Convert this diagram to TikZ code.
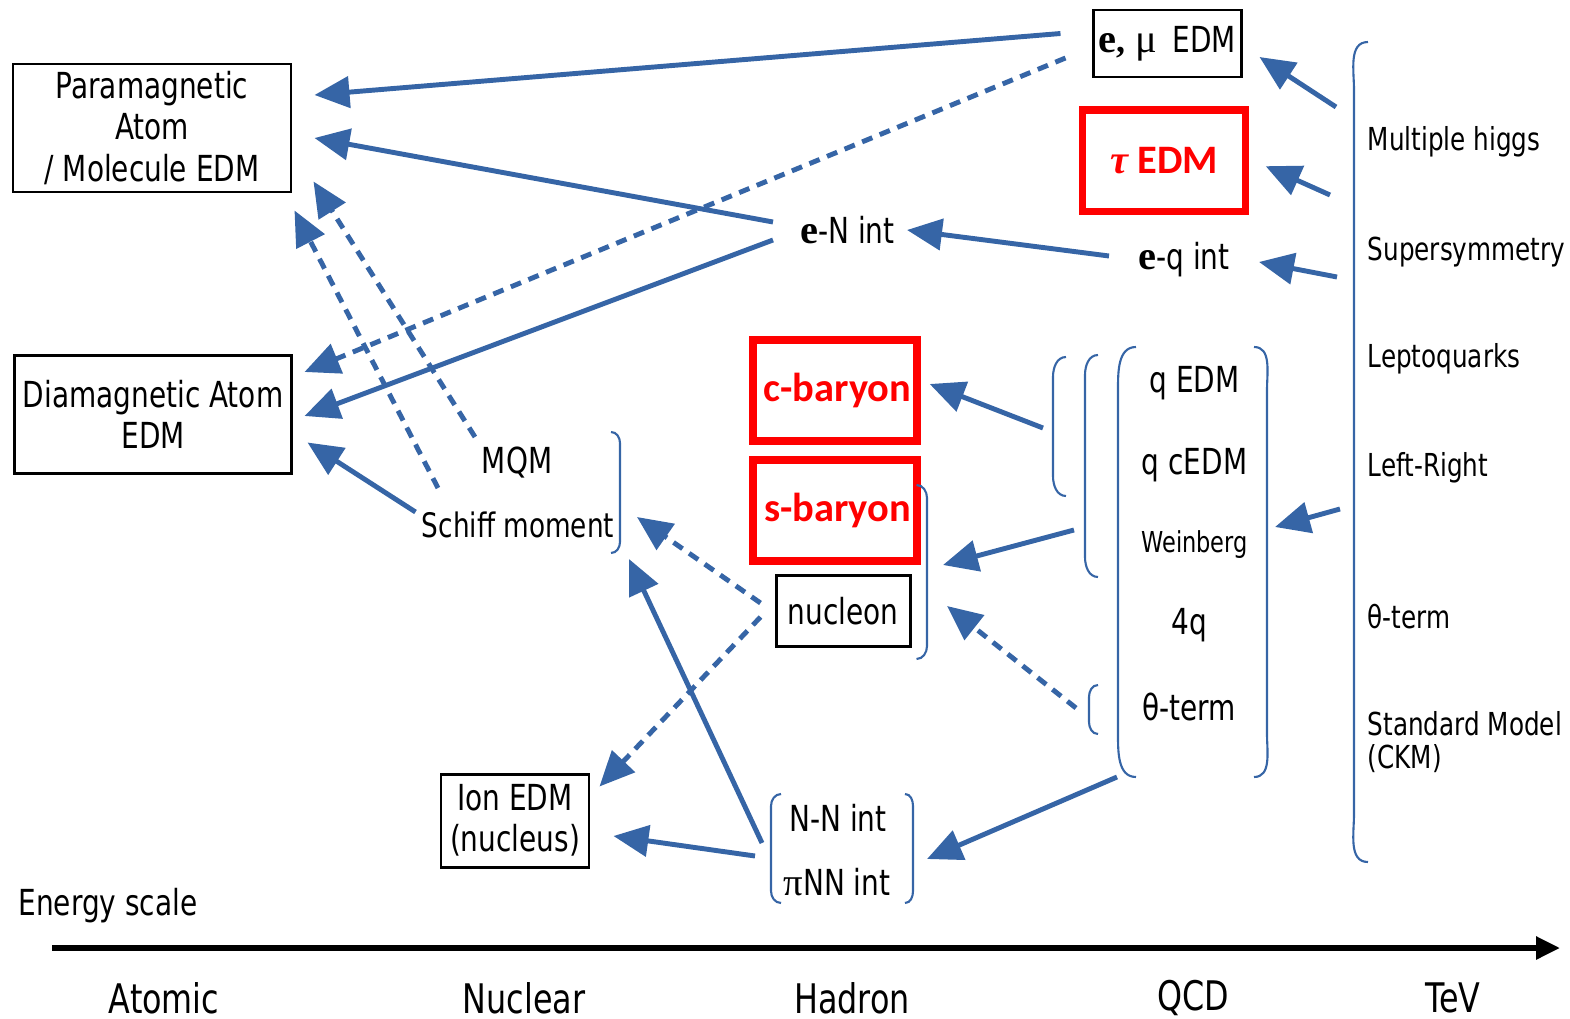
\documentclass[tikz,border=0pt]{standalone}
\usepackage{fontspec}
\setmainfont{DejaVu Sans}[FakeStretch=0.78]
\newfontfamily\redfont{Carlito}
\newfontfamily\tms{Liberation Serif}
\usetikzlibrary{arrows.meta}
\definecolor{edmblue}{RGB}{54,101,166}
\newcommand{\bfe}{{\tms\bfseries\fontsize{11.5}{12}\selectfont e}}

\tikzset{
  box/.style={draw, line width=0.85pt, inner sep=0pt, align=center,
    font=\fontsize{10.2}{11.7}\selectfont},
  redbox/.style={draw=red, line width=2.1pt, inner sep=0pt, text=red,
    minimum width=1.64cm, minimum height=1.01cm,
    font=\redfont\bfseries\fontsize{11.5}{13}\selectfont},
  lbl/.style={inner sep=1pt, font=\fontsize{10.2}{11.7}\selectfont},
  bsm/.style={anchor=west, inner sep=0pt, align=left,
    font=\fontsize{9}{9.6}\selectfont},
  axlbl/.style={inner sep=0pt, font=\fontsize{11.6}{13}\selectfont},
  link/.style={draw=edmblue, line width=1.4pt,
    -{Triangle[length=3.5mm,width=3.1mm]}},
  dlink/.style={link, dash pattern=on 1.1mm off 0.8mm},
  brk/.style={draw=edmblue, line width=0.6pt}
}

\begin{document}
\begin{tikzpicture}
\useasboundingbox (0,0) rectangle (15.70,10.18);

\node[box, minimum width=2.78cm, minimum height=1.28cm] (para) at (1.52,8.90) {Paramagnetic\\Atom\\/ Molecule EDM};
\node[box, minimum width=2.77cm, minimum height=1.18cm] (dia) at (1.53,6.035) {Diamagnetic Atom\\EDM};
\node[box, minimum width=1.48cm, minimum height=0.67cm] (emu) at (11.67,9.745) {\raisebox{-0.3mm}{\bfe{\tms\bfseries,}\hspace{1.1mm}{\tms\fontsize{11.5}{12}\selectfont μ}\hspace{1.5mm}EDM}};
\node[redbox, minimum width=1.63cm, minimum height=1.015cm] (tau) at (11.64,8.573) {{\tms\itshape τ} EDM};
\node[lbl] (eN) at (8.475,7.88) {\bfe-N int};
\node[lbl] (eq) at (11.84,7.58) {\bfe-q int};
\node[redbox] (cbar) at (8.35,6.275) {\hspace{0.5mm}c-baryon};
\node[redbox] (sbar) at (8.35,5.075) {\hspace{0.5mm}s-baryon};
\node[box, minimum width=1.34cm, minimum height=0.71cm] (nucl) at (8.43,4.07) {nucleon};
\node[lbl] (mqm) at (5.17,5.55) {MQM};
\node[lbl, font=\fontsize{9.6}{11}\selectfont] (schiff) at (5.18,4.93) {Schiff moment};
\node[box, minimum width=1.48cm, minimum height=0.93cm] (ion) at (5.15,1.975) {Ion EDM\\(nucleus)};
\node[lbl] (nn) at (8.38,2.00) {N-N int};
\node[lbl] (pinn) at (8.37,1.36) {{\tms\fontsize{11}{12}\selectfont π}NN int};

\node[lbl] (qedm) at (11.945,6.35) {q EDM};
\node[lbl] (qcedm) at (11.945,5.53) {q cEDM};
\node[lbl, font=\fontsize{8.2}{9}\selectfont] (weinb) at (11.945,4.73) {Weinberg};
\node[lbl] (fourq) at (11.89,3.93) {4q};
\node[lbl] (theta) at (11.89,3.11) {θ-term};

\node[bsm] (higgs) at (13.67,8.76) {Multiple higgs};
\node[bsm] (susy) at (13.67,7.66) {Supersymmetry};
\node[bsm] (lepto) at (13.67,6.59) {Leptoquarks};
\node[bsm] (lr) at (13.67,5.50) {Left-Right};
\node[bsm] (thterm) at (13.67,4.01) {θ-term};
\node[bsm] (sm) at (13.67,2.76) {Standard Model\\(CKM)};

\node[lbl] (escale) at (1.08,1.12) {Energy scale};
\node[axlbl] (atomic) at (1.64,0.20) {Atomic};
\node[axlbl] (nuclear) at (5.24,0.20) {Nuclear};
\node[axlbl] (hadron) at (8.52,0.20) {Hadron};
\node[axlbl] (qcd) at (11.93,0.20) {QCD};
\node[axlbl] (tev) at (14.53,0.20) {TeV};

% brackets
\draw[brk] (6.11,5.86) to[out=0,in=90] (6.20,5.75) -- (6.20,4.76) to[out=-90,in=0] (6.11,4.65);
\draw[brk] (9.165,5.33) to[out=0,in=90] (9.27,5.20) -- (9.27,3.72) to[out=-90,in=0] (9.165,3.59);
\draw[brk] (7.81,2.24) to[out=180,in=90] (7.71,2.12) -- (7.71,1.27) to[out=-90,in=180] (7.81,1.15);
\draw[brk] (9.05,2.24) to[out=0,in=90] (9.13,2.12) -- (9.13,1.27) to[out=-90,in=0] (9.05,1.15);
\draw[brk] (10.66,6.61) to[out=180,in=90] (10.53,6.41) -- (10.53,5.42) to[out=-90,in=180] (10.66,5.22);
\draw[brk] (10.98,6.63) to[out=180,in=90] (10.85,6.43) -- (10.85,4.61) to[out=-90,in=180] (10.98,4.41);
\draw[brk] (10.98,3.33) to[out=180,in=90] (10.89,3.21) -- (10.89,2.96) to[out=-90,in=180] (10.98,2.84);
\draw[brk] (11.36,6.71) to[out=180,in=90] (11.18,6.28) -- (11.18,2.84) to[out=-90,in=180] (11.36,2.41);
\draw[brk] (12.54,6.71) to[out=0,in=90] (12.67,6.28) -- (12.67,2.84) to[out=-90,in=0] (12.54,2.41);
\draw[brk] (13.68,9.76) to[out=180,in=90] (13.54,9.28) -- (13.54,2.04) to[out=-90,in=180] (13.68,1.56);

\coordinate (tevA) at (13.36,9.11);
\coordinate (tevB) at (13.30,8.23);
\coordinate (tevC) at (13.37,7.41);
\coordinate (tevD) at (13.40,5.09);
\coordinate (qcdR) at (12.75,4.91);
\coordinate (grpA) at (10.43,5.90);
\coordinate (grpB) at (10.74,4.88);
\coordinate (sgrp) at (9.43,4.53);
\coordinate (grpT) at (10.76,3.10);
\coordinate (sgrpT) at (9.47,4.12);
\coordinate (qcdB) at (11.17,2.41);
\coordinate (nngrp) at (9.27,1.59);

% arrows
\draw[link] ([xshift=-3.1mm,yshift=1mm]emu.west) -- ([xshift=2.2mm,yshift=3.3mm]para.east);
\draw[dlink] ([xshift=-2.6mm,yshift=-1.45mm]emu.west) -- ([xshift=1.15mm,yshift=4.25mm]dia.east);
\draw[link] ([xshift=-7.45mm,yshift=0.8mm]eN.center) -- ([xshift=2.2mm,yshift=-1mm]para.east);
\draw[link] ([xshift=-7.45mm,yshift=-1mm]eN.center) -- ([xshift=1.15mm,yshift=-0.15mm]dia.east);
\draw[link] ([xshift=-7.5mm,yshift=0.4mm]eq.center) -- ([xshift=5.95mm]eN.center);
\draw[link] (tevA) -- ([xshift=1.7mm,yshift=-1.35mm]emu.east);
\draw[link] (tevB) -- ([xshift=1.65mm,yshift=-0.55mm]tau.east);
\draw[link] (tevC) -- ([xshift=7.5mm,yshift=-0.2mm]eq.center);
\draw[link] (tevD) -- (qcdR);
\draw[dlink] ([xshift=-4.2mm,yshift=2.6mm]mqm.center) -- ([xshift=2.1mm,yshift=1.2mm]para.south east);
\draw[dlink] ([xshift=-8mm,yshift=3.7mm]schiff.center) -- ([xshift=0.2mm,yshift=-1.7mm]para.south east);
\draw[link] ([xshift=-10.25mm,yshift=1.3mm]schiff.center) -- ([xshift=1.45mm,yshift=3.25mm]dia.south east);
\draw[link] (grpA) -- ([xshift=0.9mm,yshift=0.65mm]cbar.east);
\draw[link] (grpB) -- (sgrp);
\draw[dlink] (grpT) -- (sgrpT);
\draw[dlink] ([xshift=-1.4mm,yshift=0.8mm]nucl.west) -- ([xshift=11.9mm,yshift=0.8mm]schiff.center);
\draw[dlink] ([xshift=-1.4mm,yshift=-0.6mm]nucl.west) -- ([xshift=0.9mm,yshift=-1.4mm]ion.north east);
\draw[link] ([xshift=-7.6mm,yshift=-2.5mm]nn.center) -- ([xshift=11.1mm,yshift=-3.4mm]schiff.center);
\draw[link] ([xshift=-8.3mm,yshift=-3.8mm]nn.center) -- ([xshift=2.3mm,yshift=-1.55mm]ion.east);
\draw[link] (qcdB) -- (nngrp);

% energy axis
\coordinate (ax0) at (0.52,0.70);
\coordinate (ax1) at (15.60,0.70);
\draw[line width=1.6pt, -{Triangle[length=2.4mm,width=2.2mm]}] (ax0) -- (ax1);
\end{tikzpicture}
\end{document}
